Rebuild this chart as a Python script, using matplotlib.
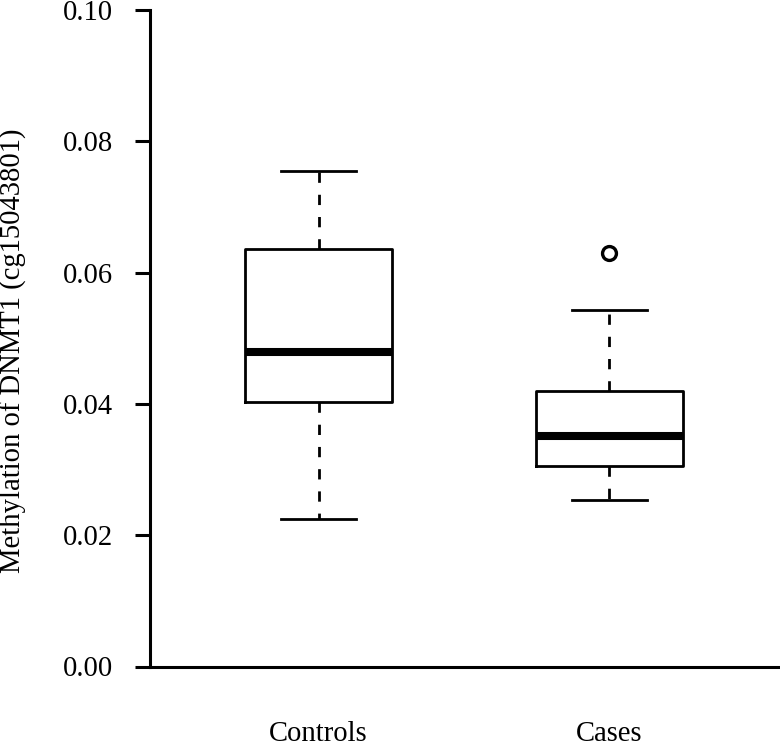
import matplotlib
matplotlib.use("Agg")
import matplotlib.pyplot as plt

# summary statistics
groups = ["Controls", "Cases"]
whisker_low = [0.0225, 0.0253]
q1 = [0.0403, 0.0305]
median = [0.0479, 0.0351]
q3 = [0.0636, 0.0419]
whisker_high = [0.0755, 0.0543]
outliers = [[], [0.0630]]

yticks = [0.00, 0.02, 0.04, 0.06, 0.08, 0.10]

plt.rcParams['font.family'] = ['Liberation Serif', 'DejaVu Serif']
fs = 20.6

stats = []
for i in range(len(groups)):
    stats.append({
        'label': groups[i],
        'whislo': whisker_low[i],
        'q1': q1[i],
        'med': median[i],
        'q3': q3[i],
        'whishi': whisker_high[i],
        'fliers': outliers[i],
    })

fig = plt.figure(figsize=(7.8, 7.48), dpi=100)
ax = fig.add_axes([150/780, (748-666.5)/748, 630/780, (666.5-10)/748])

lw = 2.0
ax.bxp(stats, positions=[1, 2], widths=0.503, capwidths=0.255,
       boxprops=dict(color='black', linewidth=lw),
       medianprops=dict(color='black', linewidth=5.8, solid_capstyle='butt'),
       whiskerprops=dict(color='black', linewidth=lw, linestyle=(0, (3.7, 4.3))),
       capprops=dict(color='black', linewidth=lw),
       flierprops=dict(marker='o', markersize=10, markerfacecolor='none',
                       markeredgecolor='black', markeredgewidth=2.4))

ax.set_xlim(1 - 168.5/291, 2 + 170.5/291)
ax.set_ylim(0, 0.10)
ax.set_yticks(yticks)
ax.set_yticklabels(["%.2f" % v for v in yticks])

ax.spines['top'].set_visible(False)
ax.spines['right'].set_visible(False)
ax.spines['left'].set_linewidth(2.2)
ax.spines['bottom'].set_linewidth(2.2)

ax.tick_params(axis='y', length=10.8, width=2.2, pad=15.5, labelsize=fs)
ax.tick_params(axis='x', length=0, pad=39, labelsize=fs)

ax.set_ylabel("Methylation of DNMT1 (cg15043801)", fontsize=fs)
ax.yaxis.set_label_coords((27-150)/630, (666.5-351)/656.5)

fig.savefig("out.png", dpi=100)
